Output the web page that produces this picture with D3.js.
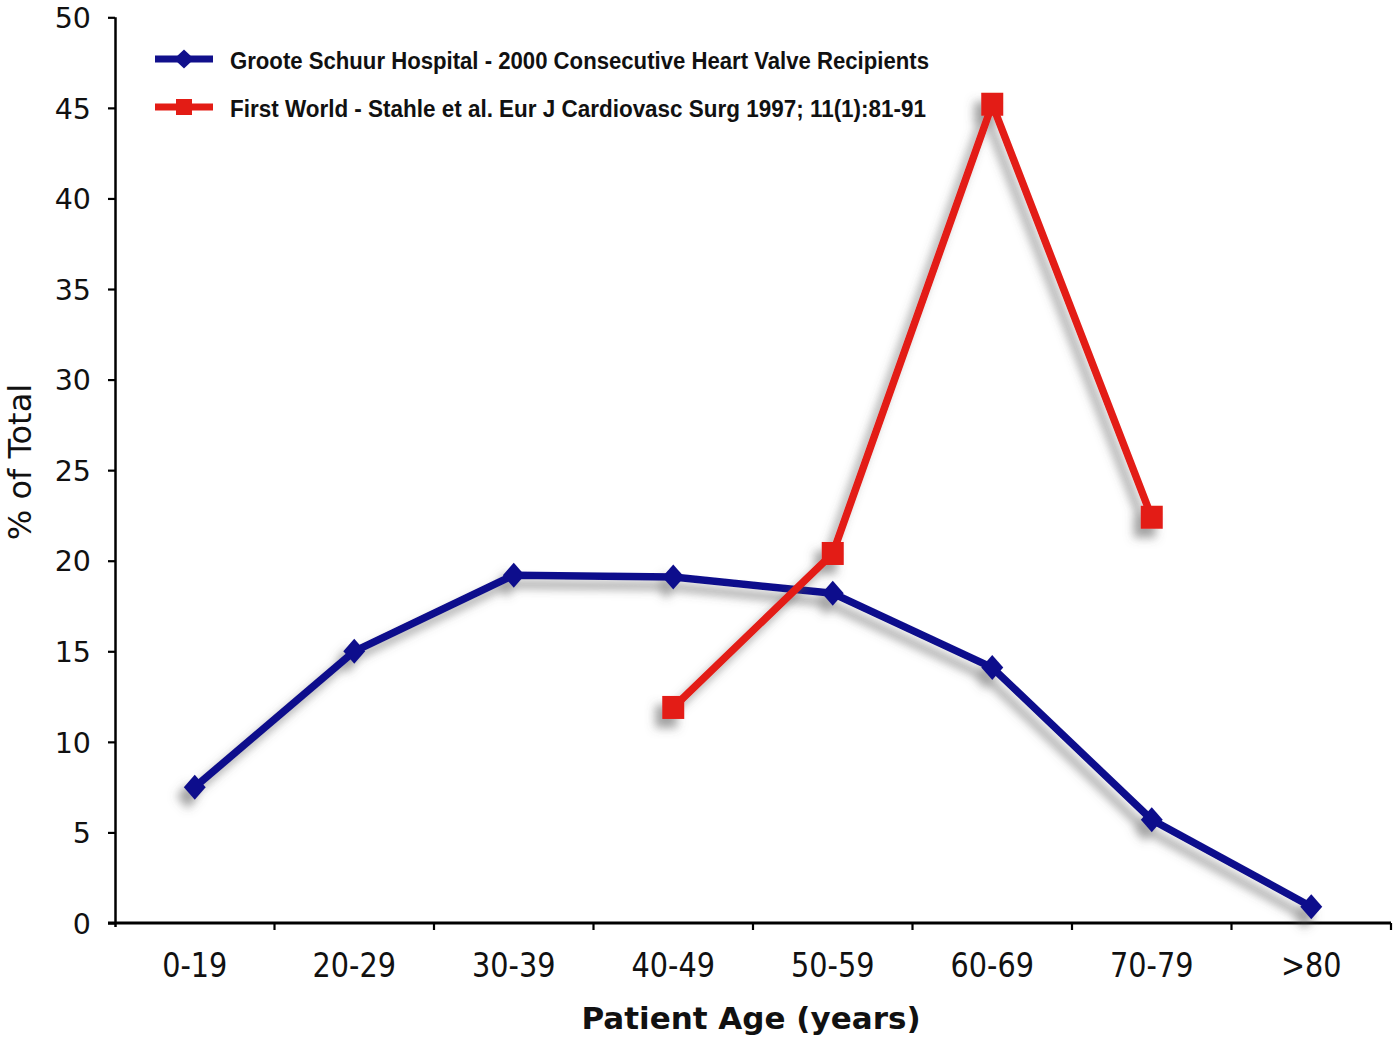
<!DOCTYPE html>
<html>
<head>
<meta charset="utf-8">
<script src="https://cdn.jsdelivr.net/npm/d3@7"></script>
<style>
  html, body { margin: 0; padding: 0; background: #fff; }
  svg { display: block; }
</style>
</head>
<body>
<svg id="chart" width="1393" height="1038"></svg>
<script>
const categories = ["0-19", "20-29", "30-39", "40-49", "50-59", "60-69", "70-79", ">80"];
const grooteSchuur = [7.5, 15.0, 19.2, 19.1, 18.2, 14.1, 5.7, 0.9];
const firstWorldCats = ["40-49", "50-59", "60-69", "70-79"];
const firstWorld = [11.9, 20.4, 45.2, 22.4];
const yTicks = [0, 5, 10, 15, 20, 25, 30, 35, 40, 45, 50];
const seriesNames = [
  "Groote Schuur Hospital - 2000 Consecutive Heart Valve Recipients",
  "First World - Stahle et al. Eur J Cardiovasc Surg 1997; 11(1):81-91"
];
const blue = "#11108c";
const red = "#e31c15";

const svg = d3.select("#chart");
const pLeft = 115, pRight = 1391, pTop = 17.3, pBottom = 923;

const x = d3.scaleBand().domain(categories).range([pLeft, pRight]).padding(0);
const xc = d => x(d) + x.bandwidth() / 2;
const y = d3.scaleLinear().domain([0, 50]).range([pBottom, pTop]);

// shadow filter
const defs = svg.append("defs");
const f = defs.append("filter").attr("id", "shadow")
  .attr("x", "-20%").attr("y", "-20%").attr("width", "140%").attr("height", "140%");
f.append("feDropShadow").attr("dx", -7).attr("dy", 9).attr("stdDeviation", 5)
  .attr("flood-color", "#555").attr("flood-opacity", 0.55);

// Y axis
const yAxis = svg.append("g").attr("transform", `translate(${pLeft},0)`)
  .call(d3.axisLeft(y).tickValues(yTicks).tickSize(7).tickPadding(17).tickSizeOuter(0));
yAxis.select(".domain").attr("stroke", "#000").attr("stroke-width", 2.5)
  .attr("d", `M0.5,${pTop}V${pBottom + 4}`);
yAxis.selectAll(".tick line").attr("stroke", "#000").attr("stroke-width", 2.2);
yAxis.selectAll(".tick text").attr("font-family", "'DejaVu Sans', Verdana, sans-serif")
  .attr("font-size", 28.5).attr("fill", "#111").attr("dy", "0.36em");

// X axis
const xAxis = svg.append("g").attr("transform", `translate(0,${pBottom})`)
  .call(d3.axisBottom(x).tickSize(0).tickPadding(0).tickSizeOuter(0));
xAxis.select(".domain").attr("stroke", "#000").attr("stroke-width", 2.8)
  .attr("d", `M${pLeft - 7},0H${pRight}`);
xAxis.selectAll(".tick text")
  .attr("font-family", "'DejaVu Sans', Verdana, sans-serif")
  .attr("font-size", 33).attr("fill", "#111")
  .attr("y", 54).attr("dy", 0)
  .attr("transform", "scale(0.87,1)");
// boundary ticks
xAxis.selectAll("line.bt").data(categories.slice(1).concat(["__end"]))
  .enter().append("line").attr("class", "bt")
  .attr("x1", d => d === "__end" ? pRight : x(d))
  .attr("x2", d => d === "__end" ? pRight : x(d))
  .attr("y1", 0).attr("y2", 7).attr("stroke", "#000").attr("stroke-width", 2.2);

// axis titles
svg.append("text").attr("x", 751).attr("y", 1029)
  .attr("text-anchor", "middle").attr("font-family", "'DejaVu Sans', Verdana, sans-serif")
  .attr("font-weight", "bold").attr("font-size", 31).attr("fill", "#111")
  .text("Patient Age (years)");
svg.append("text").attr("transform", `translate(31,462) rotate(-90)`)
  .attr("text-anchor", "middle").attr("font-family", "'DejaVu Sans', Verdana, sans-serif")
  .attr("font-size", 32).attr("fill", "#111")
  .text("% of Total");

const line = d3.line().x(d => xc(d.c)).y(d => y(d.v));
const diamond = (cx, cy, w, h) => `M${cx},${cy - h}L${cx + w},${cy}L${cx},${cy + h}L${cx - w},${cy}Z`;

// Blue series
const bData = categories.map((c, i) => ({ c, v: grooteSchuur[i] }));
const gB = svg.append("g").attr("filter", "url(#shadow)");
gB.append("path").datum(bData).attr("d", line).attr("fill", "none")
  .attr("stroke", blue).attr("stroke-width", 7.5).attr("stroke-linejoin", "round");
gB.selectAll("path.m").data(bData).enter().append("path").attr("class", "m")
  .attr("d", d => diamond(xc(d.c), y(d.v), 11, 12.5)).attr("fill", blue);

// Red series
const rData = firstWorldCats.map((c, i) => ({ c, v: firstWorld[i] }));
const gR = svg.append("g").attr("filter", "url(#shadow)");
gR.append("path").datum(rData).attr("d", line).attr("fill", "none")
  .attr("stroke", red).attr("stroke-width", 7.5).attr("stroke-linejoin", "round");
gR.selectAll("rect.m").data(rData).enter().append("rect").attr("class", "m")
  .attr("x", d => xc(d.c) - 11).attr("y", d => y(d.v) - 11.5)
  .attr("width", 22).attr("height", 23).attr("fill", red);

// Legend
const legend = svg.append("g");
const legY = [59, 107];
const legW = [699, 696];
[0, 1].forEach(i => {
  const col = i === 0 ? blue : red;
  legend.append("line").attr("x1", 155).attr("x2", 213).attr("y1", legY[i]).attr("y2", legY[i])
    .attr("stroke", col).attr("stroke-width", 7);
  if (i === 0) {
    legend.append("path").attr("d", diamond(184, legY[i], 10, 9.5)).attr("fill", col);
  } else {
    legend.append("rect").attr("x", 176).attr("y", legY[i] - 8).attr("width", 16).attr("height", 16).attr("fill", col);
  }
  legend.append("text").attr("x", 230).attr("y", legY[i] + 10)
    .attr("font-family", "'Liberation Sans', Arial, sans-serif").attr("font-weight", "bold")
    .attr("font-size", 23).attr("fill", "#111")
    .attr("textLength", legW[i]).attr("lengthAdjust", "spacingAndGlyphs")
    .text(seriesNames[i]);
});
</script>
</body>
</html>
